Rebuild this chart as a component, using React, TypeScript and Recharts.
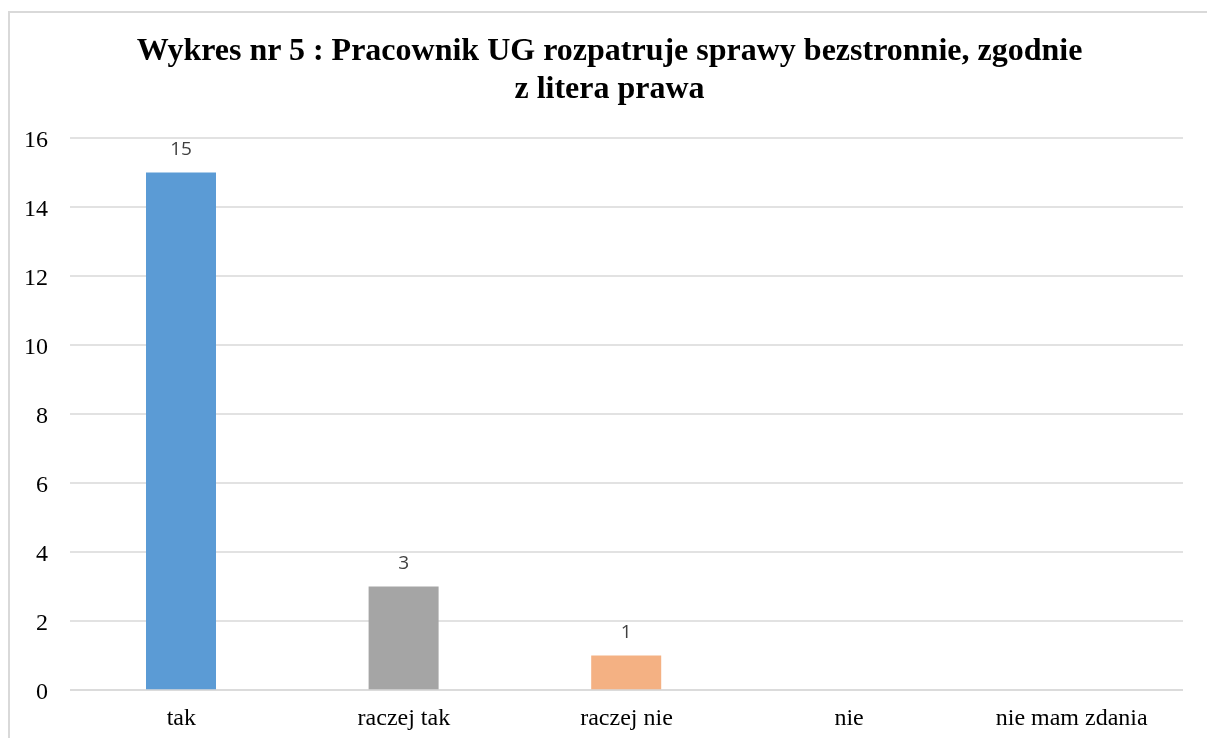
import { BarChart, Bar, XAxis, YAxis, CartesianGrid, Cell, LabelList } from "recharts";

const categories = ["tak", "raczej tak", "raczej nie", "nie", "nie mam zdania"];
const values = [15, 3, 1, 0, 0];
const barColors = ["#5B9BD5", "#A5A5A5", "#F4B183", "#FFC000", "#4472C4"];
const yTicks = [0, 2, 4, 6, 8, 10, 12, 14, 16];

const data = categories.map((name, i) => ({ name, value: values[i] }));

const serif = "Liberation Serif, Times New Roman, Tinos, DejaVu Serif, serif";

export default function App() {
  return (
    <div
      style={{
        position: "fixed",
        left: 8,
        top: 11,
        width: 1199,
        height: 727,
        borderLeft: "2px solid #D9D9D9",
        borderTop: "2px solid #D9D9D9",
        boxSizing: "border-box",
        overflow: "hidden",
        fontFamily: serif,
      }}
    >
      <div
        style={{
          position: "absolute",
          top: 17,
          left: 0,
          width: 1199,
          textAlign: "center",
          fontSize: 32,
          fontWeight: "bold",
          lineHeight: "38px",
          color: "#000",
          fontFamily: serif,
        }}
      >
        Wykres nr 5 : Pracownik UG rozpatruje sprawy bezstronnie, zgodnie
        <br />z litera prawa
      </div>
      <div style={{ position: "absolute", left: -2, top: -5 }}>
        <BarChart
          width={1199}
          height={730}
          data={data}
          margin={{ top: 130, right: 24, bottom: 18, left: 12 }}
        >
          <CartesianGrid vertical={false} stroke="#D9D9D9" strokeWidth={1.5} />
          <XAxis
            dataKey="name"
            height={30}
            axisLine={{ stroke: "#D9D9D9", strokeWidth: 1.5 }}
            tickLine={false}
            tickSize={0}
            tickMargin={18}
            tick={{ fill: "#000", fontSize: 24, fontFamily: serif }}
            interval={0}
          />
          <YAxis
            width={50}
            domain={[0, 16]}
            ticks={yTicks}
            axisLine={false}
            tickLine={false}
            tickSize={0}
            tickMargin={22}
            tick={{ fill: "#000", fontSize: 24, fontFamily: serif }}
          />
          <Bar dataKey="value" barSize={70} isAnimationActive={false}>
            {data.map((_, i) => (
              <Cell key={i} fill={barColors[i]} />
            ))}
            <LabelList
              dataKey="value"
              position="top"
              offset={18}
              formatter={(v: any) => (v > 0 ? v : "")}
              style={{ fill: "#404040", fontSize: 19, fontFamily: "Open Sans, sans-serif" }}
            />
          </Bar>
        </BarChart>
      </div>
    </div>
  );
}
